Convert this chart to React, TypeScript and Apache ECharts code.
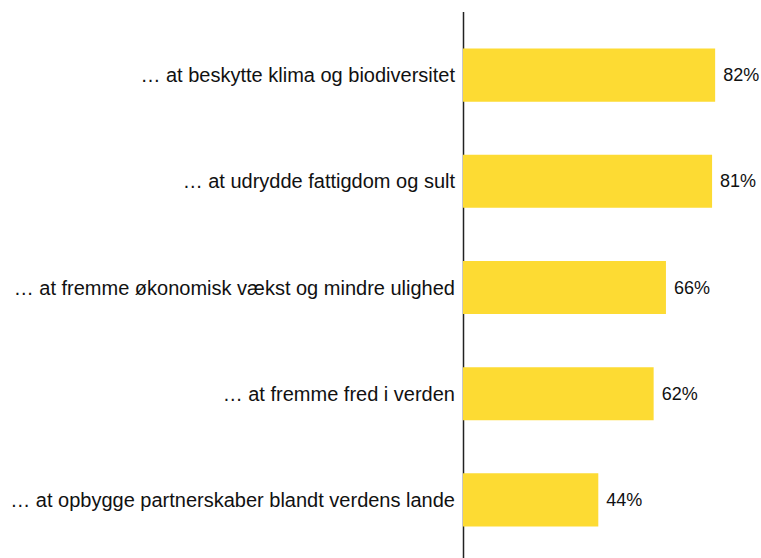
import React, { useEffect, useRef } from "react";
import * as echarts from "echarts";

const categories = [
  "… at beskytte klima og biodiversitet",
  "… at udrydde fattigdom og sult",
  "… at fremme økonomisk vækst og mindre ulighed",
  "… at fremme fred i verden",
  "… at opbygge partnerskaber blandt verdens lande",
];
const values = [82, 81, 66, 62, 44];

export default function App() {
  const ref = useRef<HTMLDivElement>(null);
  useEffect(() => {
    document.body.style.margin = "0";
    const chart = echarts.init(ref.current!, null, { renderer: "svg" });
    chart.setOption({
      animation: false,
      grid: { left: 463, top: 22, width: 307.5, height: 531, outerBoundsMode: "none" },
      xAxis: {
        type: "value",
        min: 0,
        max: 100,
        show: false,
      },
      yAxis: {
        type: "category",
        data: categories,
        inverse: true,
        axisLine: { show: false },
        axisTick: { show: false },
        axisLabel: {
          margin: 8,
          color: "#111",
          fontSize: 20,
          fontFamily: "Liberation Sans, Arial, sans-serif",
        },
      },
      graphic: [
        {
          type: "line",
          shape: { x1: 463.5, y1: 12, x2: 463.5, y2: 558 },
          style: { stroke: "#222", lineWidth: 1.5 },
        },
      ],
      series: [
        {
          type: "bar",
          data: values,
          barWidth: "50%",
          itemStyle: { color: "#FDDB33" },
          label: {
            show: true,
            position: "right",
            distance: 8,
            formatter: "{c}%",
            color: "#111",
            fontSize: 18,
            fontFamily: "Liberation Sans, Arial, sans-serif",
          },
        },
      ],
    });
    return () => chart.dispose();
  }, []);
  return <div ref={ref} style={{ width: 761, height: 558 }} />;
}
